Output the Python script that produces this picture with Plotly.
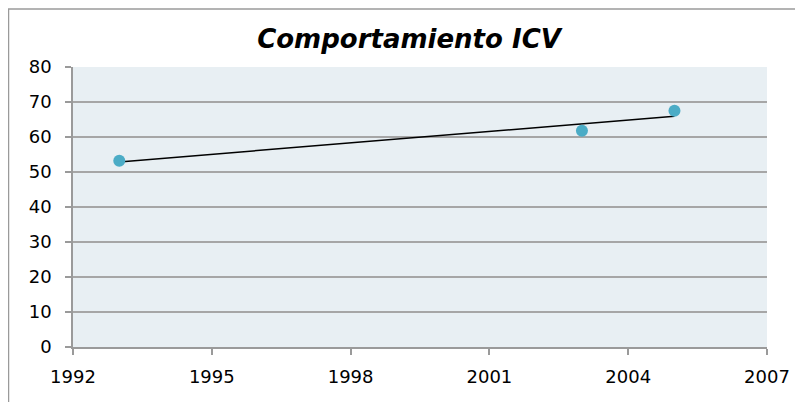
import numpy as np
import plotly.graph_objects as go

years = [1993, 2003, 2005]
icv = [53.2, 61.8, 67.5]
x_ticks = [1992, 1995, 1998, 2001, 2004, 2007]
y_ticks = [0, 10, 20, 30, 40, 50, 60, 70, 80]
title_text = "Comportamiento ICV"

# linear trendline (least squares) from the data
slope, intercept = np.polyfit(years, icv, 1)
trend_x = [min(years), max(years)]
trend_y = [slope * v + intercept for v in trend_x]

# page body has an 8px margin, so the figure starts at (8, 8)
OFF = 8
W, H = 803 - OFF, 402 - OFF
L, R, T, B = 73 - OFF, 767 - OFF, 67 - OFF, 347 - OFF

fig = go.Figure()
fig.add_trace(go.Scatter(x=trend_x, y=trend_y, mode="lines",
                         line=dict(color="black", width=1.5), hoverinfo="skip"))
fig.add_trace(go.Scatter(x=years, y=icv, mode="markers",
                         marker=dict(color="#4BACC6", size=12, line=dict(width=0))))

pw, ph = R - L, B - T
fig.add_shape(type="rect", xref="paper", yref="paper",
              x0=(0.5 - L) / pw, x1=(W + 5 - L) / pw,
              y0=-(H + 5 - B) / ph, y1=1 + (T - 1) / ph,
              line=dict(color="#9A9A9A", width=1.5), fillcolor="rgba(0,0,0,0)", layer="below")

fig.update_layout(
    width=W, height=H,
    margin=dict(l=L, r=W - R, t=T, b=H - B, pad=0),
    paper_bgcolor="white",
    plot_bgcolor="#E8EFF3",
    showlegend=False,
    title=dict(text="<b><i>" + title_text + "</i></b>", x=(409 - OFF - L) / pw, xref="paper",
               xanchor="center", y=1 - (39 - OFF) / H, yanchor="middle",
               font=dict(family="DejaVu Sans", size=26, color="black")),
    font=dict(family="DejaVu Sans", size=18, color="black"),
)
fig.update_xaxes(range=[1992, 2007], tickvals=x_ticks, ticktext=[str(v) for v in x_ticks],
                 showgrid=False, zeroline=False, showline=True, linecolor="#9A9A9A", linewidth=1.5,
                 ticks="outside", ticklen=6, tickcolor="#9A9A9A", tickwidth=1.5,
                 ticklabelstandoff=7)
fig.update_yaxes(range=[0, 80], tickvals=y_ticks, showgrid=True, gridcolor="#A6A6A6", gridwidth=1.5,
                 zeroline=False, showline=True, linecolor="#9A9A9A", linewidth=1.5,
                 ticks="outside", ticklen=6, tickcolor="#9A9A9A", tickwidth=1.5,
                 ticklabelstandoff=10)

fig.write_html("out.html")
